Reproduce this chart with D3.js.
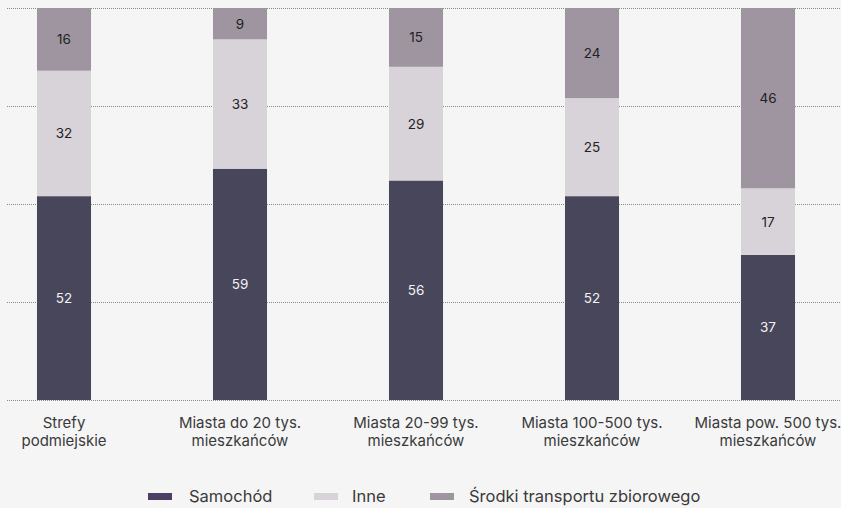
<!DOCTYPE html>
<html><head><meta charset="utf-8">
<script src="https://cdn.jsdelivr.net/npm/d3@7"></script>
<style>
html,body{margin:0;padding:0;background:#f5f5f5;}
svg{display:block;}
</style></head>
<body>
<script>
const categories = [["Strefy","podmiejskie"],["Miasta do 20 tys.","mieszkańców"],["Miasta 20-99 tys.","mieszkańców"],["Miasta 100-500 tys.","mieszkańców"],["Miasta pow. 500 tys.","mieszkańców"]];
const seriesNames = ["Samochód","Inne","Środki transportu zbiorowego"];
const samochod = [52,59,56,52,37];
const inne = [32,33,29,25,17];
const srodki = [16,9,15,24,46];
const gridTicks = [0,25,50,75,100];
const colors = ["#48465a","#d8d3d9","#9e95a0"];
const legendColors = ["#4b3f63","#d8d3d9","#9e95a0"];
const textColors = ["#f2f2f2","#222","#222"];

const W=841,H=508;
const svg=d3.select("body").append("svg").attr("width",W).attr("height",H);
const font="Inter, 'Open Sans', sans-serif";

const keys=categories.map(c=>c.join(" "));
const x=d3.scaleBand().domain(keys).range([-24,856]).paddingInner(0.693).paddingOuter(0.3465);
const y=d3.scaleLinear().domain([0,100]).range([400,8]).clamp(true);

// grid
svg.append("g").selectAll("line").data(gridTicks).join("line")
  .attr("x1",7).attr("x2",841).attr("y1",d=>y(d)+0.5).attr("y2",d=>y(d)+0.5)
  .attr("stroke","#8a8a8a").attr("stroke-width",1).attr("stroke-dasharray","1,1");

const rows=keys.map((k,i)=>({key:k,s0:samochod[i],s1:inne[i],s2:srodki[i]}));
const stack=d3.stack().keys(["s0","s1","s2"])(rows);

const g=svg.append("g");
stack.forEach((layer,li)=>{
  g.append("g").selectAll("rect").data(layer).join("rect")
    .attr("x",d=>x(d.data.key)).attr("width",x.bandwidth())
    .attr("y",d=>y(d[1])).attr("height",d=>y(d[0])-y(d[1]))
    .attr("fill",colors[li]);
  g.append("g").selectAll("text").data(layer).join("text")
    .attr("x",d=>x(d.data.key)+x.bandwidth()/2)
    .attr("y",d=>(y(d[0])+y(d[1]))/2+5)
    .attr("text-anchor","middle").attr("font-family",font).attr("font-size",13.5)
    .attr("fill",textColors[li])
    .text(d=>d[1]-d[0]);
});

// x labels
const xl=svg.append("g");
categories.forEach((c,i)=>{
  const cx=x(keys[i])+x.bandwidth()/2;
  const t=xl.append("text").attr("x",cx).attr("y",428)
    .attr("text-anchor","middle").attr("font-family",font).attr("font-size",15).attr("fill","#3a3a3a");
  c.forEach((line,j)=>t.append("tspan").attr("x",cx).attr("dy",j?18:0).text(line));
});

// legend
const legX=[148,314,430];
const legTX=[189,352,469];
const lg=svg.append("g");
seriesNames.forEach((n,i)=>{
  lg.append("rect").attr("x",legX[i]).attr("y",493).attr("width",24).attr("height",7).attr("fill",legendColors[i]);
  lg.append("text").attr("x",legTX[i]).attr("y",502).attr("font-family",font).attr("font-size",16.5).attr("fill","#3a3a3a").text(n);
});
</script>
</body></html>
